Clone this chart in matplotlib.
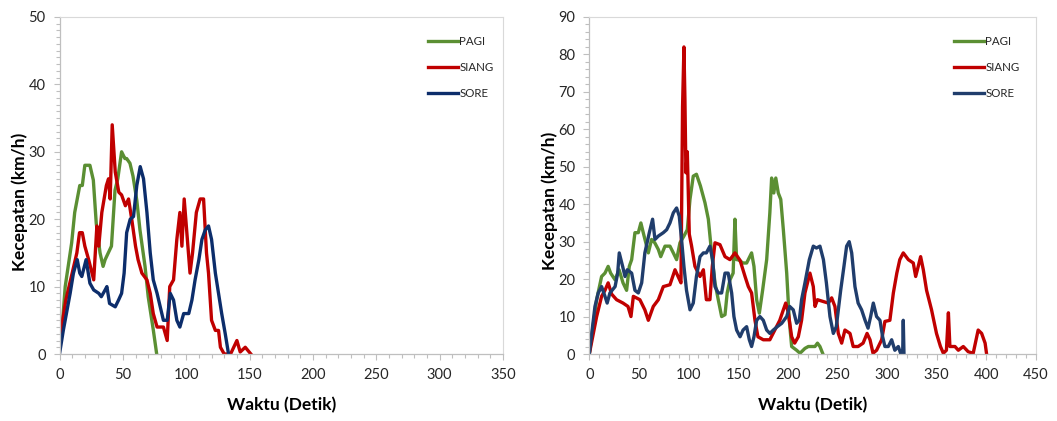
import matplotlib
matplotlib.use("Agg")
import matplotlib.pyplot as plt
from matplotlib.ticker import MultipleLocator

# ---------------- data: left chart ----------------
pagi1_t = [0, 1.7, 4.5, 9.6, 12, 16, 18, 20, 22, 24, 26.7, 29, 32, 34.4, 36, 38.5, 41, 43.8, 46, 49, 51.6, 53, 55.6, 58, 61, 63.5, 67.5, 70, 74, 76.7]
pagi1_v = [2, 3, 10, 16.5, 21, 25, 25, 28, 28, 28, 25.8, 19.4, 15, 13, 14, 15, 16, 24.3, 26, 30, 29, 29, 28.3, 26.4, 22.8, 18.4, 13, 8.5, 3.6, 0]

siang1_t = [0, 5, 10, 13.7, 15.8, 18, 20, 23, 27, 29.5, 31, 33.4, 37, 38.7, 40, 41.6, 44, 46.8, 49, 52, 54.5, 57, 60, 62, 65, 69, 71.6, 74, 77, 82, 85, 87, 90, 92.6, 95, 96.6, 98.4, 100.5, 103, 105, 108, 111, 113.7, 116, 117.6, 120, 123, 125.5, 127, 130, 135, 140, 142.6, 146.6, 151]
siang1_v = [2, 8, 12, 15, 18, 18, 16, 14, 11, 19, 16, 21, 25, 26, 23, 34, 27, 24, 23.6, 22, 23, 20, 16, 14, 12, 11, 9, 6, 4, 4, 2, 10, 11, 17, 21, 16, 23, 18, 12, 15, 21, 23, 23, 15, 12, 5, 3.5, 3.5, 1, 0, 0, 2, 0.3, 1, 0]

sore1_t = [0, 3, 8.4, 11, 14, 16, 17.6, 21, 24, 27, 31, 33, 36, 37.4, 39.5, 44, 46.6, 49, 51, 53, 55.8, 58.4, 61, 63.7, 66.3, 69, 71.6, 74, 77, 79.5, 82, 85, 87.4, 90, 92.6, 95, 98, 102, 104.5, 107, 110, 112.4, 115, 117.6, 120, 123, 125.5, 128, 130.8, 133.4]
sore1_v = [0, 3.5, 9, 12, 14, 12, 11.5, 14, 10.5, 9.5, 9, 8.5, 9.5, 10, 7.5, 7, 8, 9, 12, 18, 20, 20.4, 25, 27.8, 26, 21, 15, 11, 9, 7, 5, 5, 9, 8, 5, 4, 6, 6, 8, 11, 14, 17, 18.4, 19, 17, 12, 9, 6, 3, 0]

# ---------------- data: right chart ----------------
pagi2_t = [0, 7.4, 12.4, 15.8, 19, 21.5, 26, 30, 34, 37.6, 40.3, 42.7, 46, 49.4, 52, 54.4, 57.8, 59.5, 62.8, 66, 69.6, 72, 76.3, 81.3, 84.7, 88, 91.4, 95.4, 98.8, 101.5, 104.8, 108, 112, 116.6, 120, 123.3, 126.7, 130, 133.4, 136.8, 139, 141.8, 145, 146.8, 148.5, 150, 155, 158.6, 163.6, 166, 168.7, 171.4, 174.7, 178.8, 182, 183.8, 186, 188, 190.5, 193, 195.6, 199, 201.6, 204, 209, 212.4, 217.4, 220.8, 227.5, 230, 232.5, 235.2]
pagi2_v = [0, 14.5, 20.7, 21.6, 23.4, 21.6, 19.8, 22.5, 19, 17, 23.4, 25.2, 32.4, 32.4, 35, 32.4, 28.8, 27, 30.6, 29.7, 27.9, 26, 28.8, 28.8, 27, 25.2, 29.7, 31.5, 33.2, 41.3, 47.5, 48, 44.9, 40.4, 36, 27, 19, 14.5, 10, 10.5, 16.3, 19.8, 21.6, 36, 25.2, 25.2, 24.3, 24.3, 27, 23.4, 14.5, 10.9, 17, 25.2, 37.7, 47, 43, 47, 43, 41.3, 33.2, 21.6, 9, 2, 1, 0.2, 1.5, 2, 2, 2.9, 2, 0.2]

siang2_t = [0, 7.4, 12.4, 15.8, 19, 22.5, 27.5, 34, 39, 42, 44.4, 51, 56, 59.5, 64.5, 69.6, 74.6, 81.3, 86.4, 90.7, 92.4, 94, 95.4, 96.4, 97.4, 98.8, 100.8, 103, 106.5, 111.6, 115, 118, 121.6, 124, 126.7, 131.7, 136.8, 141.8, 146.8, 152, 157, 160.3, 163.6, 167, 170, 175.4, 182, 187, 192, 195.6, 198, 200.6, 204, 207, 210.7, 214, 217.4, 222.4, 225.8, 227.5, 230, 236, 241, 244.3, 247.6, 251, 254.4, 257.7, 262.8, 266, 271, 276, 280, 283, 286, 289.6, 294.7, 298, 303, 306.5, 310, 313, 316.5, 321.6, 326.6, 329, 331.6, 334, 336.7, 340, 345, 350, 354, 356.9, 360, 362, 363.5, 368.6, 372, 377, 382, 387, 392, 395.5, 399, 400.5]
siang2_v = [0, 10, 15.4, 17, 19, 16, 14.5, 13.6, 12.7, 10, 15.4, 14.5, 11.8, 9, 12.7, 14.5, 18, 18.5, 22.5, 20, 19, 66, 82, 68, 48.4, 54, 32, 29, 23.4, 20.7, 22.5, 14.5, 14.5, 23.4, 29.7, 29.2, 26, 25.2, 27, 25, 20.7, 18, 16.3, 9, 4.6, 3.8, 3.8, 6.4, 9, 11.8, 13.6, 11, 4.6, 2.9, 4.6, 9, 16.3, 21.6, 18, 12.7, 14.5, 14, 13.6, 15, 12.7, 5.5, 2.9, 6.4, 5.5, 2, 2, 2.9, 5.5, 3.8, 0.2, 1, 3.8, 8.7, 9, 16.3, 21.6, 25.2, 27, 25.2, 24.3, 20.7, 23.4, 26, 22.5, 17, 11.8, 5.5, 2, 0.2, 1, 11, 2, 2, 1, 2, 0.6, 0.2, 6.4, 5.5, 2.9, 0]

sore2_t = [0, 5.7, 9, 12.4, 15.8, 18, 20.8, 26, 28.6, 30.2, 33.6, 36, 38.3, 42.7, 46, 49.4, 52.8, 56, 60.5, 63.8, 66.2, 69.6, 74.6, 78, 81.3, 84.7, 88, 90.7, 93, 95.4, 98, 101.5, 104.8, 108, 111.6, 115, 118, 121.6, 124.3, 126.7, 130, 133.4, 136.8, 140, 143.5, 145.8, 148.5, 152, 155, 158.6, 161.3, 163.6, 166, 168.7, 172, 175.4, 178.8, 182, 185.5, 189.5, 194, 199, 202, 205.6, 209, 211.7, 214, 217.4, 221.8, 225.8, 229, 232.5, 236, 239, 242.6, 246, 249, 253.4, 256.7, 259.4, 262, 264.5, 267.8, 271, 274.5, 278, 281, 283.6, 286.3, 289.6, 293, 295.7, 298, 301.4, 304.8, 308, 311.5, 313.8, 315.9, 316.5, 317.2]
sore2_v = [0, 12.7, 16.3, 18, 15.4, 13.6, 16.3, 18, 21.6, 27, 23.4, 20.7, 22.5, 21.6, 17, 16.3, 19, 27, 32.4, 36, 30.6, 31.5, 32.4, 33.2, 35, 37.7, 39, 36.8, 30.6, 23.4, 17, 11.8, 13.6, 20.7, 26, 27, 27, 28.8, 25.2, 18, 16.3, 16.3, 21.6, 21.6, 16.3, 10, 6.4, 4.6, 6.4, 7.3, 3.8, 2, 4.6, 9, 10, 9, 6.4, 5.5, 6.4, 7.3, 8.2, 10, 12.7, 11.8, 8.2, 9, 14.5, 19, 25.2, 28.8, 28.3, 28.8, 25.2, 19, 10, 5.5, 7.3, 17, 23.4, 28.8, 30, 27, 18, 13.6, 11.8, 9, 6.9, 10, 13.6, 10, 9, 4.6, 2, 2, 3.8, 1, 2, 0.2, 0.2, 9, 0.2]

labels = ["PAGI", "SIANG", "SORE"]
xlabel = "Waktu (Detik)"
ylabel = "Kecepatan (km/h)"

# ---------------- styling ----------------
plt.rcParams['font.family'] = ['Lato', 'DejaVu Sans']
C_PAGI = '#5b8f33'
C_SIANG = '#c00000'
C_SORE1 = '#0c2d6b'
C_SORE2 = '#203d6c'
LW = 2.4

fig = plt.figure(figsize=(10.57, 4.21), dpi=100)
W, H = 1057, 421


def make_axes(x0, x1, y_top, y_bot):
    return fig.add_axes([x0 / W, 1 - y_bot / H, (x1 - x0) / W, (y_bot - y_top) / H])


def style(ax, xmax, xmajor, ymax, ymajor, yminor, ylab_x, ylab_y, leg_x):
    ax.set_xlim(0, xmax)
    ax.set_ylim(0, ymax)
    ax.xaxis.set_major_locator(MultipleLocator(xmajor))
    ax.xaxis.set_minor_locator(MultipleLocator(10))
    ax.yaxis.set_major_locator(MultipleLocator(ymajor))
    ax.yaxis.set_minor_locator(MultipleLocator(yminor))
    for s in ['top', 'right']:
        ax.spines[s].set_color('#d9d9d9')
        ax.spines[s].set_linewidth(0.8)
    for s in ['left', 'bottom']:
        ax.spines[s].set_color('#bfbfbf')
        ax.spines[s].set_linewidth(0.9)
    ax.tick_params(which='both', direction='out', color='#bfbfbf', width=0.8)
    ax.tick_params(which='major', length=4, labelsize=10.5, labelcolor='#262626', pad=6)
    ax.tick_params(which='minor', length=3)
    ax.set_xlabel(xlabel, fontsize=12.5, fontweight='bold')
    ax.set_ylabel(ylabel, fontsize=12.5, fontweight='bold')
    ax.xaxis.set_label_coords(0.5, -0.128)
    ax.yaxis.set_label_coords(ylab_x, ylab_y)
    leg = ax.legend(loc='upper left', bbox_to_anchor=(leg_x, 0.943), frameon=False,
                    fontsize=8.3, handlelength=2.6, handletextpad=0.1,
                    labelspacing=1.28, borderpad=0, borderaxespad=0)
    for t in leg.get_texts():
        t.set_color('#262626')


ax1 = make_axes(59.5, 503, 17, 354)
ax1.plot(pagi1_t, pagi1_v, color=C_PAGI, lw=LW, label=labels[0], solid_joinstyle='round')
ax1.plot(siang1_t, siang1_v, color=C_SIANG, lw=LW, label=labels[1], solid_joinstyle='round')
ax1.plot(sore1_t, sore1_v, color=C_SORE1, lw=LW, label=labels[2], solid_joinstyle='round')
style(ax1, 350, 50, 50, 10, 1, -0.072, 0.45, 0.831)

ax2 = make_axes(589.3, 1035.7, 17, 354)
ax2.plot(pagi2_t, pagi2_v, color=C_PAGI, lw=LW, label=labels[0], solid_joinstyle='round')
ax2.plot(siang2_t, siang2_v, color=C_SIANG, lw=LW, label=labels[1], solid_joinstyle='round')
ax2.plot(sore2_t, sore2_v, color=C_SORE2, lw=LW, label=labels[2], solid_joinstyle='round')
style(ax2, 450, 50, 90, 10, 2, -0.071, 0.455, 0.817)

fig.savefig('out.png', dpi=100)
